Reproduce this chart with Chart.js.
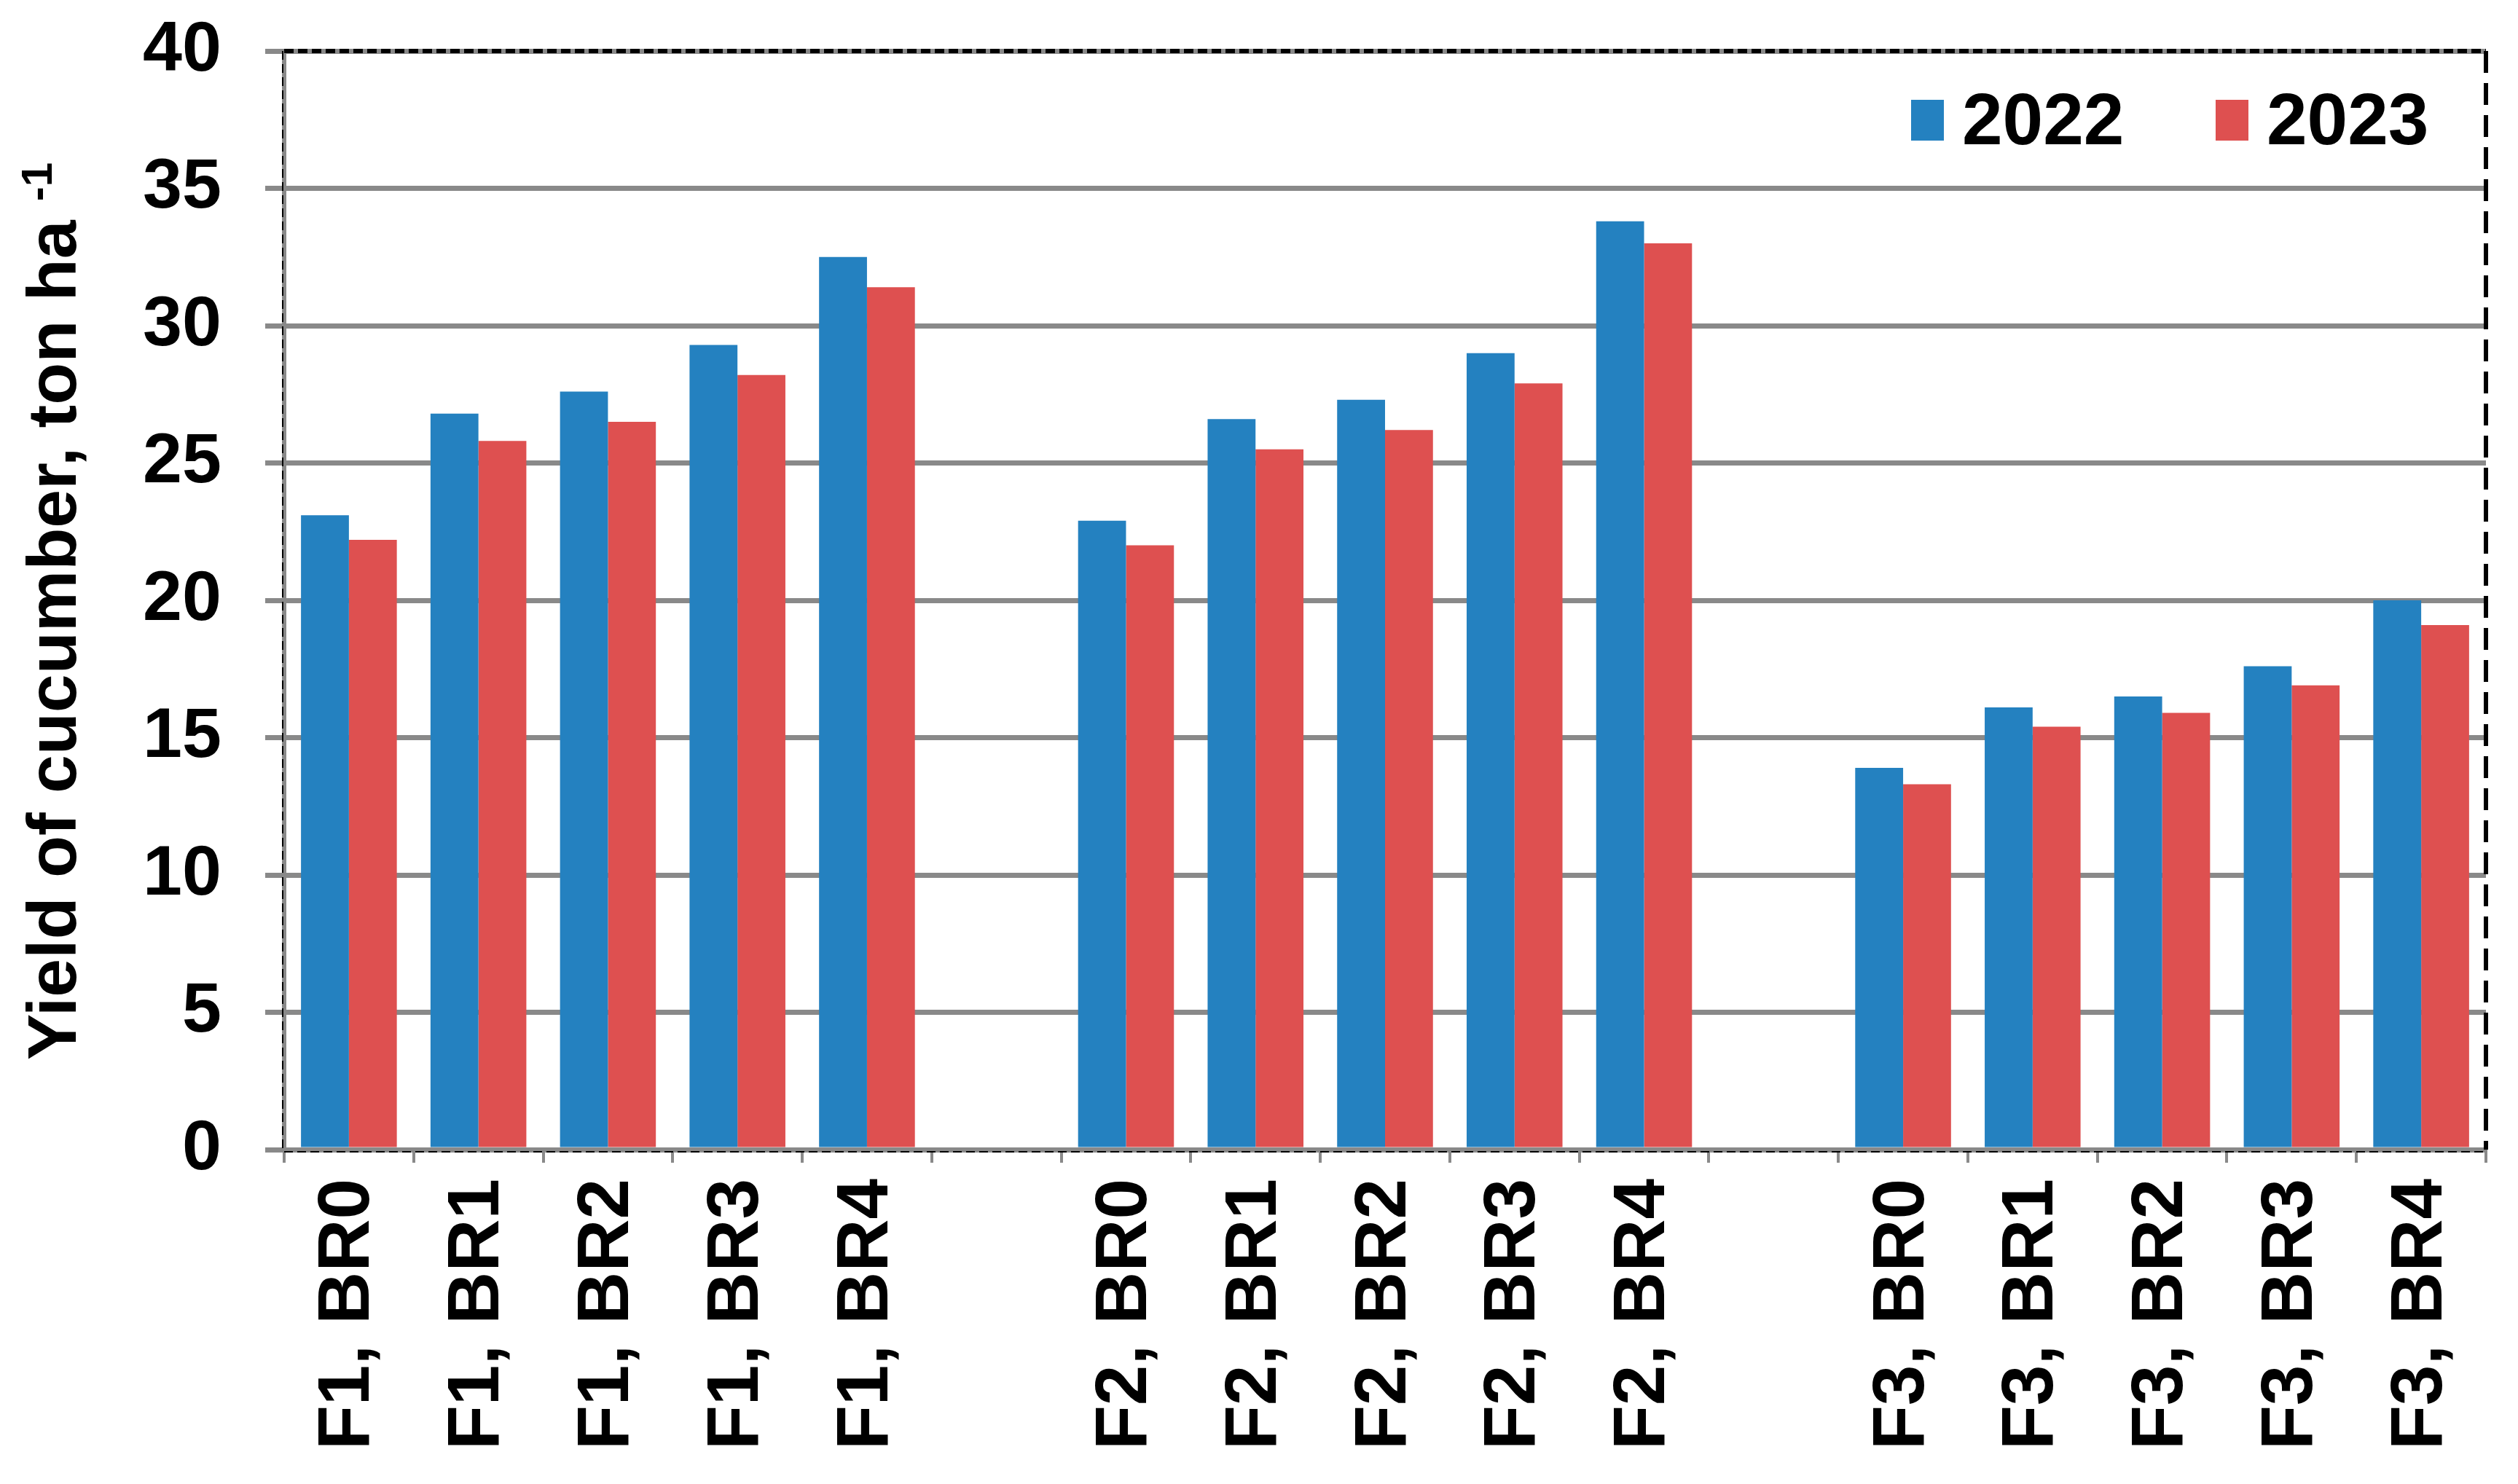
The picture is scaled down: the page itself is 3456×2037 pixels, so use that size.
<!DOCTYPE html>
<html>
<head>
<meta charset="utf-8">
<script src="https://cdn.jsdelivr.net/npm/chart.js@4.4.1/dist/chart.umd.min.js"></script>
<style>
  html, body { margin: 0; padding: 0; background: #fff; }
  #wrap { width: 3456px; height: 2037px; position: relative; }
</style>
</head>
<body>
<div id="wrap"><canvas id="yieldChart"></canvas></div>
<script>
// Categories (empty strings are the gaps between F groups)
const categories = [
    'F1, BR0', 'F1, BR1', 'F1, BR2', 'F1, BR3', 'F1, BR4', '',
    'F2, BR0', 'F2, BR1', 'F2, BR2', 'F2, BR3', 'F2, BR4', '',
    'F3, BR0', 'F3, BR1', 'F3, BR2', 'F3, BR3', 'F3, BR4'
];
const seriesNames = ['2022', '2023'];
const yield2022 = [23.1, 26.8, 27.6, 29.3, 32.5, null, 22.9, 26.6, 27.3, 29.0, 33.8, null, 13.9, 16.1, 16.5, 17.6, 20.0];
const yield2023 = [22.2, 25.8, 26.5, 28.2, 31.4, null, 22.0, 25.5, 26.2, 27.9, 33.0, null, 13.3, 15.4, 15.9, 16.9, 19.1];
const yMin = 0, yMax = 40, yStep = 5;
const yTitle = 'Yield of cucumber, ton ha';
const yTitleSup = '-1';

const BLUE = '#2481c0';
const RED = '#de5050';
const GRID = '#898989';
const FONT = "'Liberation Sans', Arial, sans-serif";

// Draws the dashed frame, the y title and the in-plot legend
const framePlugin = {
    id: 'frame',
    afterDraw(chart) {
        const { ctx, chartArea: a } = chart;
        ctx.save();

        // dashed frame
        ctx.strokeStyle = '#000';
        ctx.lineWidth = 6;
        ctx.setLineDash([13, 6]);
        ctx.beginPath();
        ctx.moveTo(a.left, a.top);
        ctx.lineTo(a.right, a.top);
        ctx.stroke();

        ctx.setLineDash([30, 14]);
        ctx.beginPath();
        ctx.moveTo(a.right, a.top);
        ctx.lineTo(a.right, a.bottom);
        ctx.stroke();

        ctx.lineWidth = 2;
        ctx.setLineDash([12, 6]);
        ctx.beginPath();
        ctx.moveTo(a.left - 2, a.top);
        ctx.lineTo(a.left - 2, a.bottom);
        ctx.moveTo(a.left, a.bottom + 3);
        ctx.lineTo(a.right, a.bottom + 3);
        ctx.stroke();
        ctx.setLineDash([]);

        // y axis title with superscript
        ctx.fillStyle = '#000';
        ctx.translate(78, 1455);
        ctx.rotate(-Math.PI / 2);
        ctx.font = `bold 95px ${FONT}`;
        ctx.textAlign = 'left';
        ctx.textBaseline = 'middle';
        ctx.fillText(yTitle, 0, 0);
        const w = ctx.measureText(yTitle + ' ').width;
        ctx.font = `bold 60px ${FONT}`;
        ctx.fillText(yTitleSup, w, -24);
        ctx.restore();

        // legend inside plot, top right
        ctx.save();
        ctx.font = `bold 100px ${FONT}`;
        ctx.textBaseline = 'alphabetic';
        ctx.textAlign = 'left';
        const items = chart.data.datasets.map(d => ({ text: d.label, color: d.backgroundColor }));
        const xs = [2623, 3041];
        items.forEach((it, i) => {
            ctx.fillStyle = it.color;
            ctx.fillRect(xs[i], 137, 45, 56);
            ctx.fillStyle = '#000';
            ctx.fillText(it.text, xs[i] + 70, 198);
        });
        ctx.restore();
    }
};

new Chart(document.getElementById('yieldChart'), {
    type: 'bar',
    data: {
        labels: categories,
        datasets: [
            { label: seriesNames[0], data: yield2022, backgroundColor: BLUE, borderWidth: 0 },
            { label: seriesNames[1], data: yield2023, backgroundColor: RED, borderWidth: 0 }
        ]
    },
    options: {
        responsive: true,
        maintainAspectRatio: false,
        animation: false,
        devicePixelRatio: 1,
        layout: { padding: { top: 70, right: 44, left: 0, bottom: 0 } },
        datasets: { bar: { categoryPercentage: 0.74, barPercentage: 1.0 } },
        plugins: {
            legend: { display: false },
            tooltip: { enabled: false }
        },
        scales: {
            x: {
                offset: true,
                grid: {
                    offset: true,
                    drawOnChartArea: false,
                    drawTicks: true,
                    tickLength: 18,
                    color: GRID,
                    lineWidth: 4
                },
                border: { display: true, color: GRID, width: 7 },
                ticks: {
                    color: '#000',
                    font: { family: FONT, size: 100, weight: 'bold' },
                    minRotation: 90,
                    maxRotation: 90,
                    autoSkip: false,
                    padding: 22
                },
                afterFit(scale) {
                    scale.height = 459;
                    scale.paddingLeft = 0;
                    scale.paddingRight = 0;
                }
            },
            y: {
                min: yMin,
                max: yMax,
                ticks: {
                    stepSize: yStep,
                    color: '#000',
                    font: { family: FONT, size: 97, weight: 'bold' },
                    padding: 60
                },
                grid: {
                    color: GRID,
                    lineWidth: 7,
                    tickLength: 26,
                    drawTicks: true
                },
                border: { display: true, color: GRID, width: 6 },
                afterFit(scale) {
                    scale.width = 390;
                    scale.paddingTop = 0;
                    scale.paddingBottom = 0;
                }
            }
        }
    },
    plugins: [framePlugin]
});
</script>
</body>
</html>
